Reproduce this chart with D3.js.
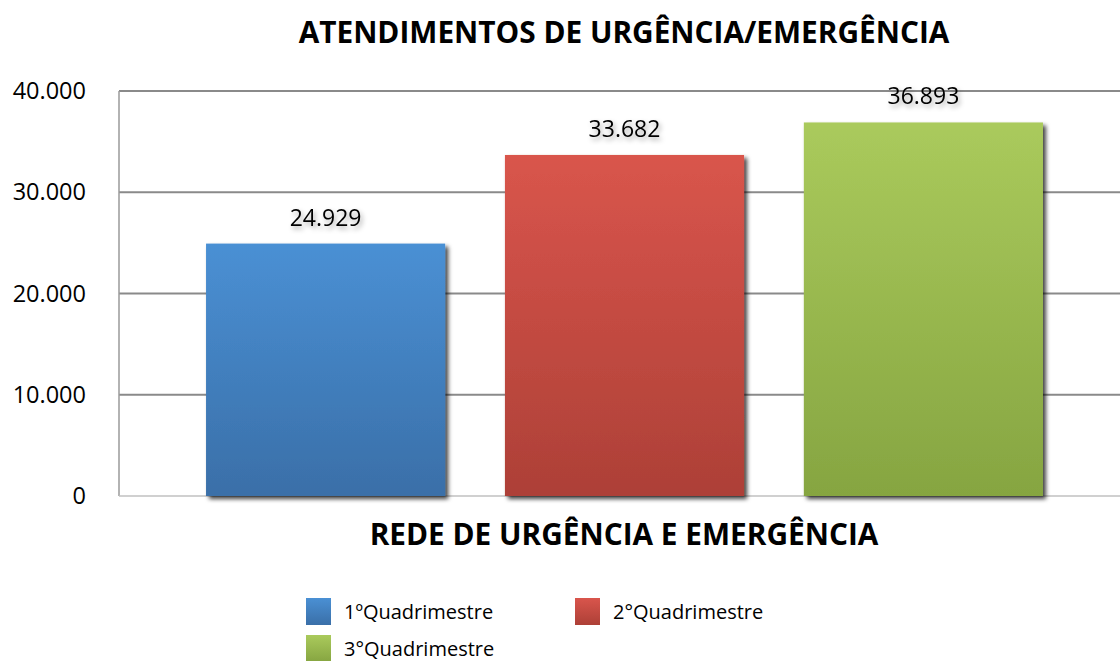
<!DOCTYPE html>
<html>
<head>
<meta charset="utf-8">
<script src="https://cdn.jsdelivr.net/npm/d3@7"></script>
<style>
  body { margin: 0; background: #fff; }
  svg { display: block; font-family: "Open Sans", "Noto Sans", sans-serif; }
</style>
</head>
<body>
<svg id="chart" width="1120" height="661"></svg>
<script>
// chart data
const categories = ["REDE DE URGÊNCIA E EMERGÊNCIA"];
const seriesNames = ["1ºQuadrimestre", "2°Quadrimestre", "3°Quadrimestre"];
const seriesValues = [24929, 33682, 36893];
const yTicks = [0, 10000, 20000, 30000, 40000];
const seriesColors = [
    ["#4a90d4", "#3a6fa8"],
    ["#d9554c", "#ad4037"],
    ["#aaca5c", "#86a541"]
];

const svg = d3.select("#chart");
const plotLeft = 119, plotRight = 1130, plotTop = 91, plotBottom = 496;

const fmt = d3.formatLocale({ decimal: ",", thousands: ".", grouping: [3], currency: ["", ""] }).format(",d");

const y = d3.scaleLinear().domain([0, 40000]).range([plotBottom, plotTop]);
const x0 = d3.scaleBand().domain(categories).range([plotLeft, plotRight]).paddingOuter(0.104);
const x1 = d3.scaleBand().domain(seriesNames).range([0, x0.bandwidth()]).paddingInner(0.2);

// gradients and shadow
const defs = svg.append("defs");
seriesColors.forEach((c, i) => {
    const g = defs.append("linearGradient").attr("id", "grad" + i)
        .attr("x1", 0).attr("y1", 0).attr("x2", 0).attr("y2", 1);
    g.append("stop").attr("offset", "0%").attr("stop-color", c[0]);
    g.append("stop").attr("offset", "100%").attr("stop-color", c[1]);
});
const f = defs.append("filter").attr("id", "shadow").attr("x", "-10%").attr("y", "-10%").attr("width", "130%").attr("height", "130%");
f.append("feDropShadow").attr("dx", 3).attr("dy", 3).attr("stdDeviation", 2).attr("flood-color", "#000").attr("flood-opacity", 0.75);
const tf = defs.append("filter").attr("id", "tshadow").attr("x", "-20%").attr("y", "-30%").attr("width", "140%").attr("height", "180%");
tf.append("feDropShadow").attr("dx", 2).attr("dy", 3).attr("stdDeviation", 2.5).attr("flood-color", "#000").attr("flood-opacity", 0.35);

// gridlines
svg.append("g").selectAll("line").data(yTicks.filter(d => d > 0)).join("line")
    .attr("x1", plotLeft).attr("x2", 1120)
    .attr("y1", d => y(d)).attr("y2", d => y(d))
    .attr("stroke", "#8a8a8a").attr("stroke-width", 2);

// axis lines
svg.append("line").attr("x1", plotLeft).attr("x2", plotLeft).attr("y1", plotTop).attr("y2", plotBottom)
    .attr("stroke", "#9a9a9a").attr("stroke-width", 1.5);
svg.append("line").attr("x1", plotLeft).attr("x2", 1120).attr("y1", plotBottom).attr("y2", plotBottom)
    .attr("stroke", "#c0c0c0").attr("stroke-width", 1.5);

// y axis labels
const yAxis = d3.axisLeft(y).tickValues(yTicks).tickFormat(fmt).tickSize(0).tickPadding(0);
const ya = svg.append("g").attr("transform", "translate(86,0)").call(yAxis);
ya.select(".domain").remove();
ya.selectAll("text").attr("font-size", 23.5).attr("fill", "#000").attr("font-family", "Open Sans, sans-serif");

// bars
const grp = svg.append("g").attr("transform", `translate(${x0(categories[0])},0)`);
grp.selectAll("rect").data(seriesValues).join("rect")
    .attr("x", (d, i) => x1(seriesNames[i]))
    .attr("y", d => y(d))
    .attr("width", x1.bandwidth())
    .attr("height", d => y(0) - y(d))
    .attr("fill", (d, i) => `url(#grad${i})`)
    .attr("filter", "url(#shadow)");

grp.selectAll("text").data(seriesValues).join("text")
    .attr("x", (d, i) => x1(seriesNames[i]) + x1.bandwidth() / 2)
    .attr("y", d => y(d) - 18)
    .attr("text-anchor", "middle")
    .attr("font-size", 23)
    .attr("fill", "#000")
    .attr("filter", "url(#tshadow)")
    .text(d => fmt(d));

// titles
svg.append("text").attr("x", 624).attr("y", 43).attr("text-anchor", "middle")
    .attr("font-size", 29.8).attr("font-weight", "bold").text("ATENDIMENTOS DE URGÊNCIA/EMERGÊNCIA");
svg.append("text").attr("x", 624).attr("y", 545).attr("text-anchor", "middle")
    .attr("font-size", 29.8).attr("font-weight", "bold").text(categories[0]);

// legend
const legendPos = [[306, 598], [575, 598], [306, 635]];
const lg = svg.append("g");
seriesNames.forEach((name, i) => {
    const [lx, ly] = legendPos[i];
    lg.append("rect").attr("x", lx).attr("y", ly).attr("width", 25).attr("height", 27)
        .attr("fill", `url(#grad${i})`);
    lg.append("text").attr("x", lx + 38).attr("y", ly + 21)
        .attr("font-size", 20).attr("fill", "#000").text(name);
});
</script>
</body>
</html>
